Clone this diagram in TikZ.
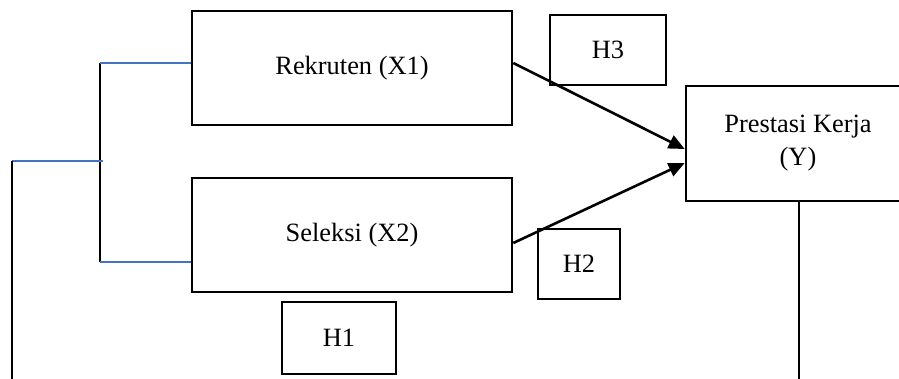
\documentclass[tikz,border=0pt]{standalone}
\usepackage{fontspec}
\setmainfont{Liberation Serif}
\usetikzlibrary{arrows.meta}
\definecolor{linkblue}{HTML}{4472C4}
\begin{document}
\begin{tikzpicture}[x=1pt,y=-1pt,
  box/.style={draw=black, line width=2.6pt, rectangle, inner sep=0pt,
    align=center, font=\fontsize{26.4}{33}\selectfont},
  bluelink/.style={draw=linkblue, line width=1.8pt},
  blackline/.style={draw=black, line width=2.6pt},
  effect/.style={draw=black, line width=2.6pt,
    -{Triangle[length=16pt,width=14pt]}}]
\useasboundingbox (0,0) rectangle (899,378);
\clip (0,0) rectangle (899,378);

% variables
\node[box, minimum width=320pt, minimum height=114pt] (rek) at (352,68) {Rekruten (X1)};
\node[box, minimum width=320pt, minimum height=114pt] (sel) at (352,235) {Seleksi (X2)};
\node[box, minimum width=224pt, minimum height=115pt] (pres) at (798,143.5) {Prestasi Kerja\\(Y)};

% hypothesis labels
\node[box, minimum width=116pt, minimum height=70pt] (h3) at (608,50) {H3};
\node[box, minimum width=82pt, minimum height=70pt] (h2) at (579,264) {H2};
\node[box, minimum width=114pt, minimum height=72pt] (h1) at (339,338) {H1};

% bracket joining X1 and X2
\coordinate (jtop) at (100,63);
\coordinate (jmid) at (100,161);
\coordinate (jbot) at (100,262);
\coordinate (lmid) at (12,161);
\coordinate (lend) at (12,385);
\coordinate (rend) at (799,385);

\draw[blackline] (jtop) -- (jbot);
\draw[bluelink] (jtop) -- (rek.west |- jtop);
\draw[bluelink] (jbot) -- (sel.west |- jbot);
\draw[bluelink] (lmid) -- ([xshift=3pt]jmid);
\draw[blackline] (lmid) -- (lend);
\draw[blackline] (pres.south -| rend) -- (rend);

% direct effects
\draw[effect] ([yshift=5pt]rek.east) -- ([yshift=-5.5pt]pres.west);
\draw[effect] ([yshift=-8pt]sel.east) -- ([yshift=-19.5pt]pres.west);
\end{tikzpicture}
\end{document}
